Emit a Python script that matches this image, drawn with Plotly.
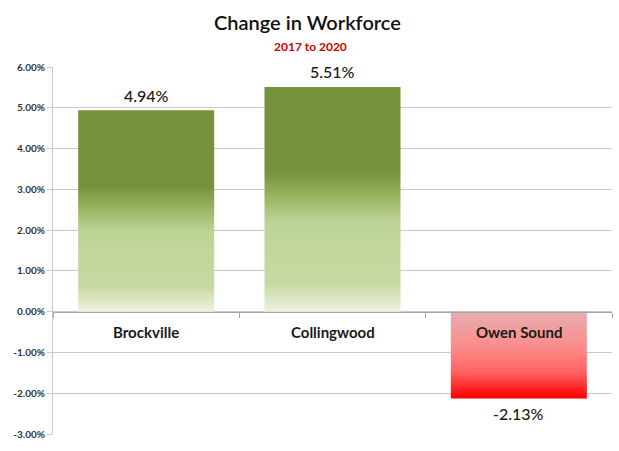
import plotly.graph_objects as go

categories = ["Brockville", "Collingwood", "Owen Sound"]
values = [4.94, 5.51, -2.13]
value_labels = ["4.94%", "5.51%", "-2.13%"]
y_ticks = [-3, -2, -1, 0, 1, 2, 3, 4, 5, 6]

FONT = "Lato, 'Open Sans', sans-serif"
GREEN_SCALE = [[0.0, "#EEF3E3"], [0.12, "#C8DAA3"], [0.40, "#BDD395"],
               [0.52, "#97B25E"], [0.62, "#76933C"], [1.0, "#76933C"]]
RED_SCALE = [[0.0, "#FF0000"], [0.06, "#FF1010"], [0.30, "#FF6262"],
             [0.60, "#FC8C8C"], [1.0, "#E6AEAE"]]
HALF_W = 0.365

fig = go.Figure()
for i, (cat, v) in enumerate(zip(categories, values)):
    x0, x1 = i - HALF_W, i + HALF_W
    fig.add_trace(go.Scatter(
        x=[x0, x1, x1, x0, x0], y=[0, 0, v, v, 0],
        mode="lines", line=dict(width=0), fill="toself",
        fillgradient=dict(type="vertical",
                          colorscale=GREEN_SCALE if v >= 0 else RED_SCALE),
        hoverinfo="skip", showlegend=False,
    ))

annotations = []
for i, (cat, v, lab) in enumerate(zip(categories, values, value_labels)):
    annotations.append(dict(x=i, y=v, xref="x", yref="y", text=lab, showarrow=False,
                            yanchor="middle", yshift=15 if v >= 0 else -15,
                            font=dict(family=FONT, size=16, color="#1a1a1a", weight=500)))
    annotations.append(dict(x=i, y=0, xref="x", yref="y", text=f"<b>{cat}</b>",
                            showarrow=False, yanchor="middle", yshift=-20,
                            font=dict(family=FONT, size=15, color="#1a1a1a")))

annotations.append(dict(x=0.455, y=1.1226, xref="paper", yref="paper",
                        xanchor="center", yanchor="middle",
                        text="Change in Workforce", showarrow=False,
                        font=dict(family=FONT, size=20, color="#111111", weight=600)))
annotations.append(dict(x=0.46, y=1.0572, xref="paper", yref="paper",
                        xanchor="center", yanchor="middle",
                        text="<b>2017 to 2020</b>", showarrow=False,
                        font=dict(family=FONT, size=12, color="#CC0000")))

fig.update_layout(
    width=619, height=451,
    margin=dict(l=53, r=7, t=67, b=17),
    paper_bgcolor="white", plot_bgcolor="white",
    annotations=annotations,
    xaxis=dict(range=[-0.5, 2.5], tickvals=[-0.5, 0.5, 1.5, 2.5], ticktext=["", "", "", ""],
               ticks="outside", ticklen=5, tickcolor="#A6A6A6",
               showline=True, linecolor="#A6A6A6", linewidth=1,
               showgrid=False, zeroline=False,
               anchor="free", position=1/3, fixedrange=True),
    yaxis=dict(range=[-3, 6], tickvals=y_ticks,
               ticktext=[f"<b>{t:.2f}%</b>" for t in y_ticks],
               tickfont=dict(family=FONT, size=10, color="#333333"),
               ticks="outside", ticklen=5, tickcolor="#C8C8C8",
               showgrid=True, gridcolor="#C8C8C8", gridwidth=1,
               showline=True, linecolor="#C8C8C8", linewidth=1,
               zeroline=False, fixedrange=True),
)

fig.write_html("out.html", config={"displayModeBar": False},
               post_script="document.body.style.margin='0';document.body.style.overflow='hidden';")
